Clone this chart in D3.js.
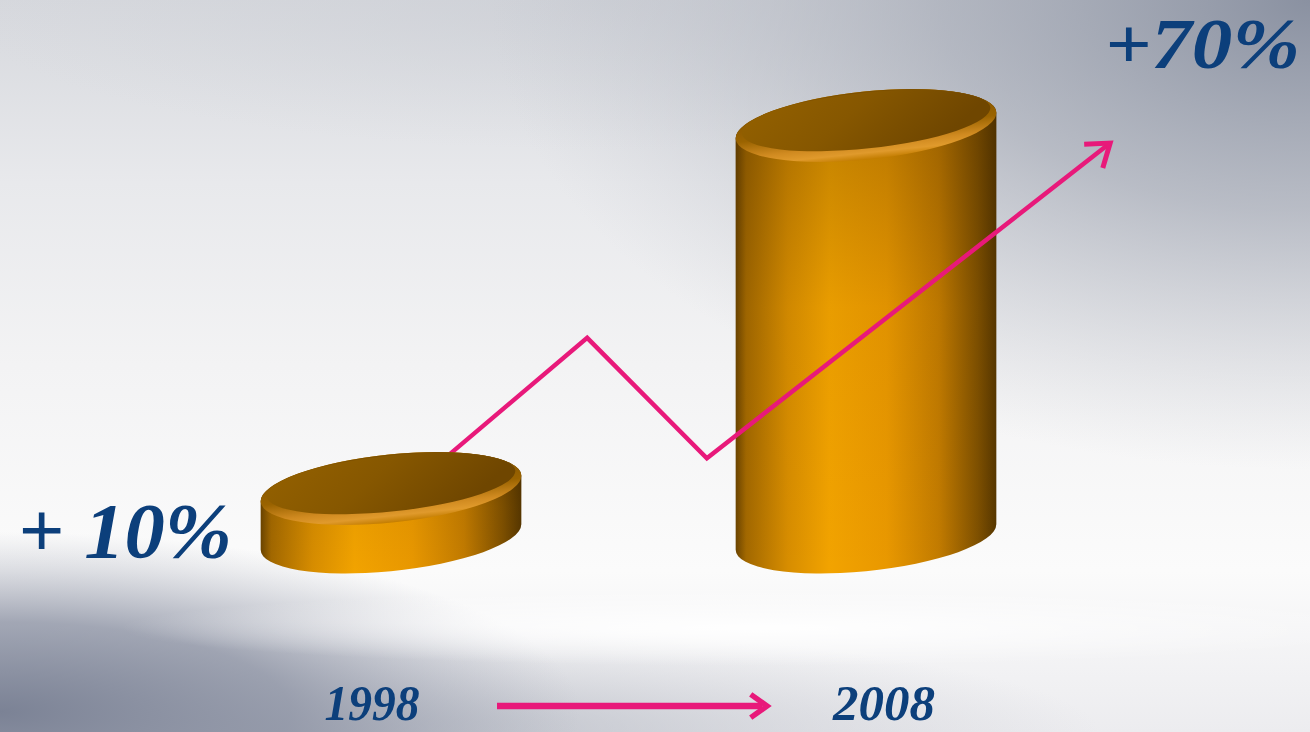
<!DOCTYPE html>
<html><head><meta charset="utf-8">
<script src="https://cdn.jsdelivr.net/npm/d3@7"></script>
<style>html,body{margin:0;padding:0;overflow:hidden;background:#fff}</style>
</head><body><svg id="c" width="1310" height="732"></svg>
<script>
// ---- data ----
const categories = ["1998", "2008"];
const values = [10, 70];
const valueLabels = ["+ 10%", "+70%"];
const trendX = [0.112, 0.413, 0.665, 1.514];   // position between the two bars (0 = 1998, 1 = 2008)
const trendV = [14.9, 34.9, 15.0, 67.1];       // trend level in value units

// ---- layout ----
const W = 1310, H = 732;
const svg = d3.select("#c");
const floorY = 537;
const rx = 131, ry = 34, rotDeg = -6, rot = rotDeg * Math.PI / 180;
const x = d3.scalePoint().domain(categories).range([391, 866]);
const y = d3.scaleLinear().domain([0, 70]).range([549, 125.5]);
const tx = d3.scaleLinear().domain([0, 1]).range([x(categories[0]), x(categories[1])]);
const xYear = d3.scalePoint().domain(categories).range([372, 884]);
const pink = "#e8197a", blue = "#0c3f7b";

const defs = svg.append("defs");
function lin(id, stops, x2 = 0, y2 = 1) {
  const g = defs.append("linearGradient").attr("id", id)
    .attr("x1", 0).attr("y1", 0).attr("x2", x2).attr("y2", y2);
  stops.forEach(s => g.append("stop").attr("offset", s[0]).attr("stop-color", s[1]).attr("stop-opacity", s[2] ?? 1));
}
function rad(id, stops) {
  const g = defs.append("radialGradient").attr("id", id);
  stops.forEach(s => g.append("stop").attr("offset", s[0]).attr("stop-color", s[1]).attr("stop-opacity", s[2] ?? 1));
}
lin("bgBase", [[0, "#d6d8dd"], [0.25, "#e8e9ec"], [0.5, "#f3f3f4"], [0.78, "#fbfbfb"], [1, "#ececef"]]);
rad("tr", [[0, "#8a91a1"], [0.45, "#a4a9b5", 0.7], [1, "#c0c3cb", 0]]);
rad("bl", [[0, "#7b8295"], [0.5, "#8d93a4", 0.8], [1, "#a9adba", 0]]);
rad("bl2", [[0, "#a3a8b4", 0.8], [1, "#b9bcc6", 0]]);
rad("band", [[0, "#ffffff", 0.95], [1, "#ffffff", 0]]);
rad("tl", [[0, "#c9ccd3", 0.6], [1, "#d0d3d9", 0]]);
lin("side", [[0, "#6b4400"], [0.04, "#a26800"], [0.2, "#d78d00"], [0.36, "#f2a300"], [0.58, "#e99800"], [0.78, "#c27b00"], [0.93, "#7e5000"], [1, "#573700"]], 1, 0);
lin("sideShade", [[0, "#3a2200", 0.3], [0.45, "#3a2200", 0.05], [1, "#3a2200", 0]]);
lin("rim", [[0, "#7a4e00"], [0.55, "#9a6300"], [0.78, "#d08a20"], [0.9, "#e09a2c"], [1, "#c37d00"]]);
lin("topG", [[0, "#946100"], [0.5, "#865700"], [1, "#6f4600"]], 1, 0.3);

// ---- background ----
svg.append("rect").attr("width", W).attr("height", H).attr("fill", "url(#bgBase)");
svg.append("ellipse").attr("cx", 600).attr("cy", 0).attr("rx", 650).attr("ry", 150).attr("fill", "url(#tl)");
svg.append("ellipse").attr("cx", W).attr("cy", 0).attr("rx", 820).attr("ry", 470).attr("fill", "url(#tr)");
svg.append("ellipse").attr("cx", 300).attr("cy", H).attr("rx", 800).attr("ry", 110).attr("fill", "url(#bl2)");
svg.append("ellipse").attr("cx", 0).attr("cy", H - 20).attr("rx", 580).attr("ry", 180).attr("fill", "url(#bl)");
svg.append("ellipse").attr("cx", 760).attr("cy", 628).attr("rx", 640).attr("ry", 38).attr("fill", "url(#band)");

// ---- cylinders ----
const t0 = Math.atan2(-ry * Math.sin(rot), rx * Math.cos(rot));
function ell(cx, cy, t) {
  const ex = rx * Math.cos(t), ey = ry * Math.sin(t);
  return [cx + ex * Math.cos(rot) - ey * Math.sin(rot), cy + ex * Math.sin(rot) + ey * Math.cos(rot)];
}
function cylinder(cat, val) {
  const g = svg.append("g").attr("class", "bar");
  const cx = x(cat), top = y(val);
  const Lt = ell(cx, top, t0 + Math.PI), Rt = ell(cx, top, t0);
  const Lb = ell(cx, floorY, t0 + Math.PI), Rb = ell(cx, floorY, t0);
  const d = `M${Lt}L${Lb}A${rx},${ry} ${rotDeg} 0 0 ${Rb}L${Rt}A${rx},${ry} ${rotDeg} 0 0 ${Lt}Z`;
  g.append("path").attr("d", d).attr("fill", "url(#side)");
  g.append("path").attr("d", d).attr("fill", "url(#sideShade)");
  g.append("ellipse").attr("cx", cx).attr("cy", top).attr("rx", rx).attr("ry", ry)
    .attr("transform", `rotate(${rotDeg},${cx},${top})`).attr("fill", "url(#rim)");
  g.append("ellipse").attr("cx", cx).attr("cy", top - 5).attr("rx", rx - 6).attr("ry", ry - 6)
    .attr("transform", `rotate(${rotDeg},${cx},${top - 5})`).attr("fill", "url(#topG)");
}

// tall bar first, then trend line, then the short bar
cylinder(categories[1], values[1]);

const tpts = trendX.map((t, i) => [tx(t), y(trendV[i])]);
const last = tpts[tpts.length - 1], prev = tpts[tpts.length - 2];
svg.append("path").attr("d", d3.line()(tpts)).attr("fill", "none")
  .attr("stroke", pink).attr("stroke-width", 4.5).attr("stroke-linejoin", "miter");
function head(tip, from, len, spread, sw) {
  const a = Math.atan2(tip[1] - from[1], tip[0] - from[0]);
  const p1 = [tip[0] - len * Math.cos(a - spread), tip[1] - len * Math.sin(a - spread)];
  const p2 = [tip[0] - len * Math.cos(a + spread), tip[1] - len * Math.sin(a + spread)];
  svg.append("path").attr("d", `M${p1}L${tip}L${p2}`).attr("fill", "none")
    .attr("stroke", pink).attr("stroke-width", sw).attr("stroke-linejoin", "miter").attr("stroke-linecap", "butt");
}
head(last, prev, 26, 0.62, 5);

cylinder(categories[0], values[0]);

// ---- value labels ----
const lf = "'Liberation Serif','Times New Roman',serif";
svg.append("text").attr("x", 18).attr("y", 557).text(valueLabels[0])
  .attr("font-family", lf).attr("font-style", "italic").attr("font-weight", "bold")
  .attr("font-size", 78).attr("fill", blue).attr("textLength", 214).attr("lengthAdjust", "spacingAndGlyphs");
svg.append("text").attr("x", 1105).attr("y", 68).text(valueLabels[1])
  .attr("font-family", lf).attr("font-style", "italic").attr("font-weight", "bold")
  .attr("font-size", 72).attr("fill", blue).attr("textLength", 195).attr("lengthAdjust", "spacingAndGlyphs");

// ---- year axis ----
const yearW = [95, 102];
categories.forEach((c, i) => {
  svg.append("text").attr("x", xYear(c) - yearW[i] / 2).attr("y", 720).text(c)
    .attr("font-family", lf).attr("font-style", "italic").attr("font-weight", "bold")
    .attr("font-size", 50).attr("fill", blue).attr("textLength", yearW[i]).attr("lengthAdjust", "spacingAndGlyphs");
});
svg.append("line").attr("x1", 497).attr("x2", 762).attr("y1", 706).attr("y2", 706)
  .attr("stroke", pink).attr("stroke-width", 6.5);
head([767, 706], [497, 706], 20, 0.62, 5.5);
</script></body></html>
